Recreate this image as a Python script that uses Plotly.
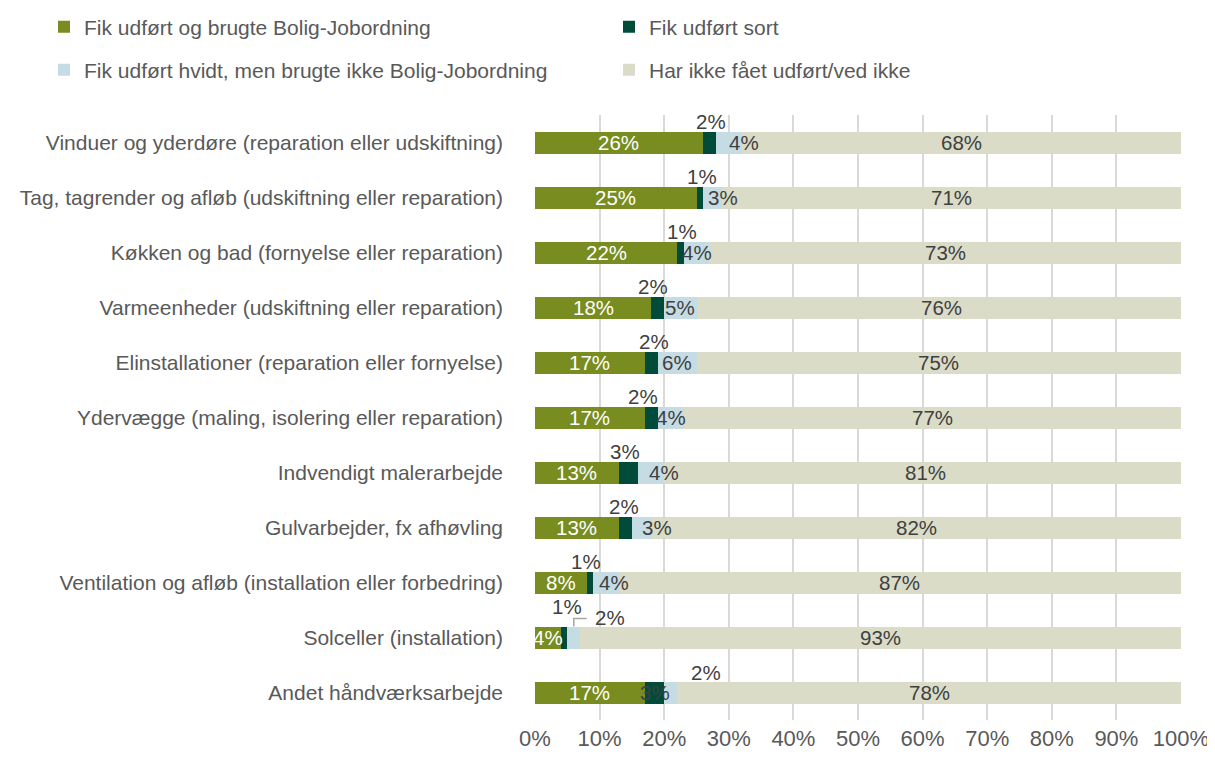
import plotly.graph_objects as go

# Kategorier (top -> bund)
kategorier = [
    "Vinduer og yderdøre (reparation eller udskiftning)",
    "Tag, tagrender og afløb (udskiftning eller reparation)",
    "Køkken og bad (fornyelse eller reparation)",
    "Varmeenheder (udskiftning eller reparation)",
    "Elinstallationer (reparation eller fornyelse)",
    "Ydervægge (maling, isolering eller reparation)",
    "Indvendigt malerarbejde",
    "Gulvarbejder, fx afhøvling",
    "Ventilation og afløb (installation eller forbedring)",
    "Solceller (installation)",
    "Andet håndværksarbejde",
]

serie_navne = [
    "Fik udført og brugte Bolig-Jobordning",
    "Fik udført sort",
    "Fik udført hvidt, men brugte ikke Bolig-Jobordning",
    "Har ikke fået udført/ved ikke",
]

bolig_job = [26, 25, 22, 18, 17, 17, 13, 13, 8, 4, 17]
sort = [2, 1, 1, 2, 2, 2, 3, 2, 1, 1, 3]
hvidt = [4, 3, 4, 5, 6, 4, 4, 3, 4, 2, 2]
ikke = [68, 71, 73, 76, 75, 77, 81, 82, 87, 93, 78]

x_ticks = list(range(0, 101, 10))

farver = ["#788C20", "#004B3A", "#C5DCE5", "#DADCC7"]
FONT = "Liberation Sans, Arial, sans-serif"

serier = [bolig_job, sort, hvidt, ikke]

# siden har 8px body-margin, så figuren gøres tilsvarende mindre
W, H = 1207, 750
L, R, T, B = 527, 34, 107, 38
plot_h = H - T - B
plot_w = W - L - R

# små manuelle flytninger af etiketter (px), som i originalen
sort_dx = [2, 2, 2, -5, 3, -8, -4, -1, -4, 3, 0]
hvid_dx = [15, 10, 0, 0, 0, 0, 13, 15, 8, 36, 35]

fig = go.Figure()
for i, (navn, vals) in enumerate(zip(serie_navne, serier)):
    fig.add_trace(go.Bar(
        y=kategorier, x=vals, name=navn, orientation="h",
        marker=dict(color=farver[i], line=dict(width=0)),
        width=0.4,
        legend="legend" if i < 2 else "legend2",
        hoverinfo="x+name",
    ))

# data labels
andet = "Andet håndværksarbejde"
solceller = "Solceller (installation)"
ann = []
for r, kat in enumerate(kategorier):
    cum = 0
    for i, vals in enumerate(serier):
        v = vals[r]
        mid = cum + v / 2
        cum += v
        col = "#FFFFFF" if i == 0 else "#404040"
        xs, ys = 0, 0
        if i == 1 and kat != andet:
            xs = sort_dx[r]
            ys = 31 if kat == solceller else 21
        if i == 2:
            xs = hvid_dx[r]
            if kat in (andet, solceller):
                ys = 20
        ann.append(dict(x=mid, y=kat, text=f"{v}%", showarrow=False,
                        xshift=xs, yshift=ys,
                        font=dict(family=FONT, size=20.5, color=col)))

fig.update_layout(annotations=ann)

# leader line for Solceller 2%
sol = kategorier.index(solceller)
sol_mid = bolig_job[sol] + sort[sol] + hvidt[sol] / 2
fig.add_shape(type="path", xref="x", yref="y",
              xsizemode="pixel", ysizemode="pixel",
              xanchor=sol_mid, yanchor=solceller,
              path="M 13,19 L 0,19 L 0,11",
              line=dict(color="#A6A6A6", width=1.5))

leg_x = (36 - L) / plot_w
n = len(kategorier)
fig.update_layout(
    barmode="stack",
    width=W, height=H,
    margin=dict(l=L, r=R, t=T, b=B, autoexpand=False),
    plot_bgcolor="white", paper_bgcolor="white",
    font=dict(family=FONT, color="#595959"),
    xaxis=dict(
        range=[0, 100], tickvals=x_ticks,
        ticktext=[f"{t}%" for t in x_ticks],
        showgrid=True, gridcolor="#D9D9D9", gridwidth=1.5,
        zeroline=False, showline=False, automargin=False,
        tickfont=dict(family=FONT, size=22, color="#595959"),
        ticks="", ticklabelstandoff=3,
    ),
    yaxis=dict(
        categoryorder="array", categoryarray=kategorier,
        range=[n - 0.5, -0.5], automargin=False,
        tickfont=dict(family=FONT, size=21, color="#595959"),
        showgrid=False, ticks="", ticklabelstandoff=31,
    ),
    legend=dict(
        orientation="h",
        x=leg_x, y=1 + (T - 19) / plot_h, xanchor="left", yanchor="middle",
        font=dict(family=FONT, size=21, color="#595959"),
        entrywidth=520, itemwidth=30, traceorder="normal",
    ),
    legend2=dict(
        orientation="h",
        x=leg_x, y=1 + (T - 62) / plot_h, xanchor="left", yanchor="middle",
        font=dict(family=FONT, size=21, color="#595959"),
        entrywidth=520, itemwidth=30, traceorder="normal",
    ),
    showlegend=True,
)

fig.write_html("out.html")
